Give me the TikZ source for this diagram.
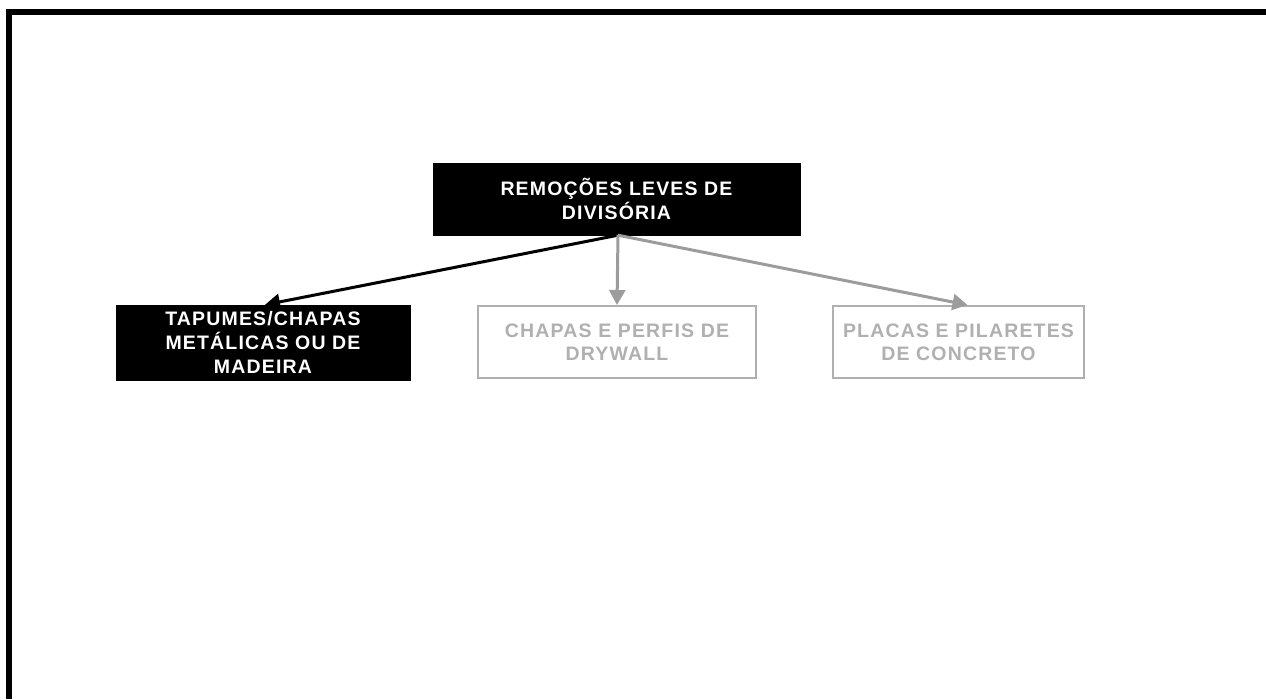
\documentclass[tikz,border=0pt]{standalone}
\usepackage{fontspec}
\setmainfont{Liberation Sans}
\newfontfamily\boxfont[LetterSpace=6]{Liberation Sans}
\usetikzlibrary{arrows.meta}
\definecolor{arrgray}{HTML}{9C9C9C}
\definecolor{boxgray}{HTML}{B0B0B0}
\definecolor{txtgray}{HTML}{B0B0B0}
\tikzset{
  darkbox/.style={rectangle, fill=black, draw=black, text=white, align=center,
    font=\boxfont\bfseries\fontsize{19.5}{24}\selectfont, inner sep=0pt},
  lightbox/.style={rectangle, fill=white, draw=boxgray, line width=2pt, text=txtgray, align=center,
    font=\boxfont\bfseries\fontsize{19.5}{23}\selectfont, inner sep=0pt},
  blackarrow/.style={draw=black, line width=3pt, -{Triangle[length=15pt,width=16pt]}},
  grayarrow/.style={draw=arrgray, fill=arrgray, line width=3pt, -{Triangle[length=15pt,width=16pt]}},
}
\begin{document}
\begin{tikzpicture}[x=1pt,y=-1pt]
\useasboundingbox (0,0) rectangle (1266,699);
% frame
\fill[black] (6,9) rectangle (1266,15);
\fill[black] (6,9) rectangle (12,699);
% nodes
\node[darkbox, minimum width=367pt, minimum height=72pt] (top) at (616.5,199) {REMOÇÕES LEVES DE\\DIVISÓRIA};
\node[darkbox, minimum width=294pt, minimum height=75pt] (left) at (263,342.5) {TAPUMES/CHAPAS\\METÁLICAS OU DE\\MADEIRA};
\node[lightbox, minimum width=278pt, minimum height=72pt] (mid) at (617,342) {CHAPAS E PERFIS DE\\DRYWALL};
\node[lightbox, minimum width=251pt, minimum height=72pt] (right) at (958.5,342) {PLACAS E PILARETES\\DE CONCRETO};
% connectors
\coordinate (src) at ([xshift=1.5pt]top.south);
\draw[blackarrow] (src) -- ([xshift=2pt]left.north);
\draw[grayarrow] (src) -- (mid.north);
\draw[grayarrow] (src) -- ([xshift=9pt]right.north);
\end{tikzpicture}
\end{document}
